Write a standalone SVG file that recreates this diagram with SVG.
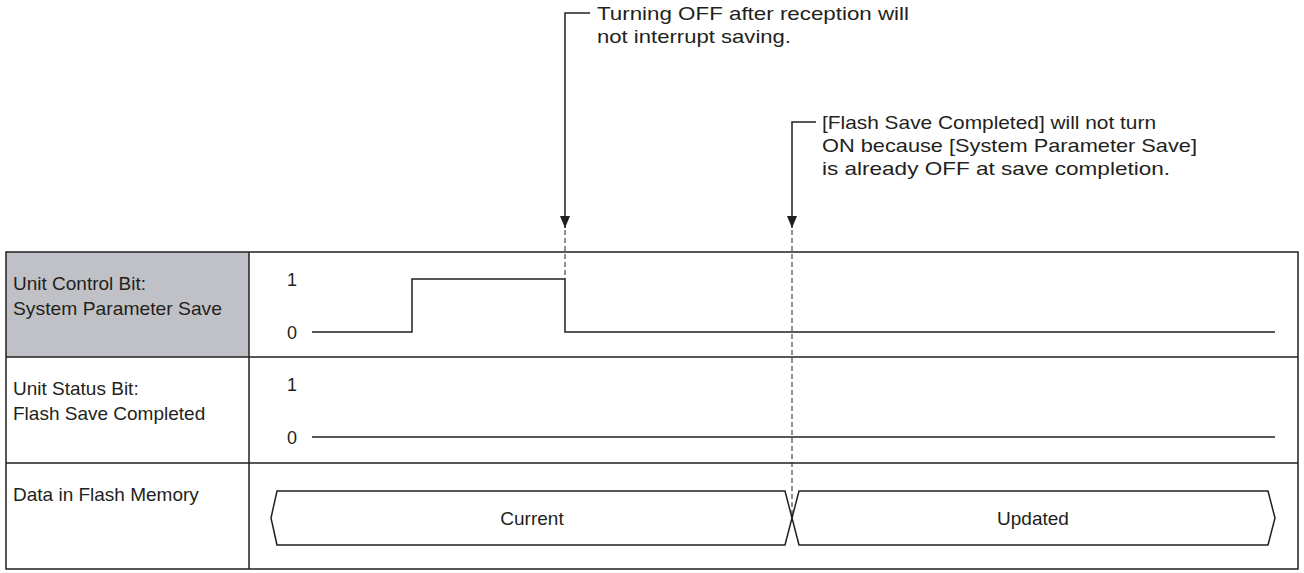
<svg xmlns="http://www.w3.org/2000/svg" width="1304" height="573" viewBox="0 0 1304 573">
<style>
text{font-family:"Liberation Sans",Arial,sans-serif;font-size:19px;fill:#231f20}
.n{font-size:18px}
.l{fill:none;stroke:#231f20;stroke-width:1.5}
.d{fill:none;stroke:#231f20;stroke-width:1;stroke-dasharray:5,3}
</style>
<defs><marker id="a" markerWidth="12" markerHeight="10" refX="12" refY="5" orient="auto" markerUnits="userSpaceOnUse" viewBox="0 0 12 10"><path d="M0,0L12,5L0,10Z" fill="#231f20"/></marker></defs>
<g id="table">
<rect x="6" y="252" width="243" height="105" fill="#c0c1c6"/>
<rect x="6" y="252" width="1292" height="317" class="l"/>
<line x1="249" y1="252" x2="249" y2="569" class="l"/>
<line x1="6" y1="357" x2="1298" y2="357" class="l"/>
<line x1="6" y1="463" x2="1298" y2="463" class="l"/>
</g>
<g id="row1"><text x="13" y="290">Unit Control Bit:</text><text x="13" y="315" textLength="209" lengthAdjust="spacingAndGlyphs">System Parameter Save</text>
<text x="287" y="286" class="n">1</text><text x="287" y="339" class="n">0</text>
<path class="l" d="M312,332H412V279H565V332H1275"/></g>
<g id="row2"><text x="13" y="395">Unit Status Bit:</text><text x="13" y="420">Flash Save Completed</text>
<text x="287" y="391" class="n">1</text><text x="287" y="444" class="n">0</text>
<path class="l" d="M312,437H1275"/></g>
<g id="row3"><text x="13" y="501">Data in Flash Memory</text>
<path class="l" d="M792,518L785,491H277L271,518L277,545H785Z"/>
<path class="l" d="M792,518L799,491H1268L1275,518L1268,545H799Z"/>
<text x="532" y="525" text-anchor="middle">Current</text>
<text x="1033" y="525" text-anchor="middle">Updated</text></g>
<g id="connectors">
<path class="l" d="M590,13H565V228" marker-end="url(#a)"/>
<path class="l" d="M816,122H792V228" marker-end="url(#a)"/>
<line class="d" x1="565" y1="230" x2="565" y2="279"/>
<line class="d" x1="792" y1="230" x2="792" y2="518"/>
</g>
<g id="notes">
<text x="597" y="20" textLength="312" lengthAdjust="spacingAndGlyphs">Turning OFF after reception will</text><text x="597" y="43" textLength="194" lengthAdjust="spacingAndGlyphs">not interrupt saving.</text>
<text x="822" y="129" textLength="334" lengthAdjust="spacingAndGlyphs">[Flash Save Completed] will not turn</text><text x="822" y="152" textLength="375" lengthAdjust="spacingAndGlyphs">ON because [System Parameter Save]</text><text x="822" y="175" textLength="348" lengthAdjust="spacingAndGlyphs">is already OFF at save completion.</text>
</g>
</svg>
